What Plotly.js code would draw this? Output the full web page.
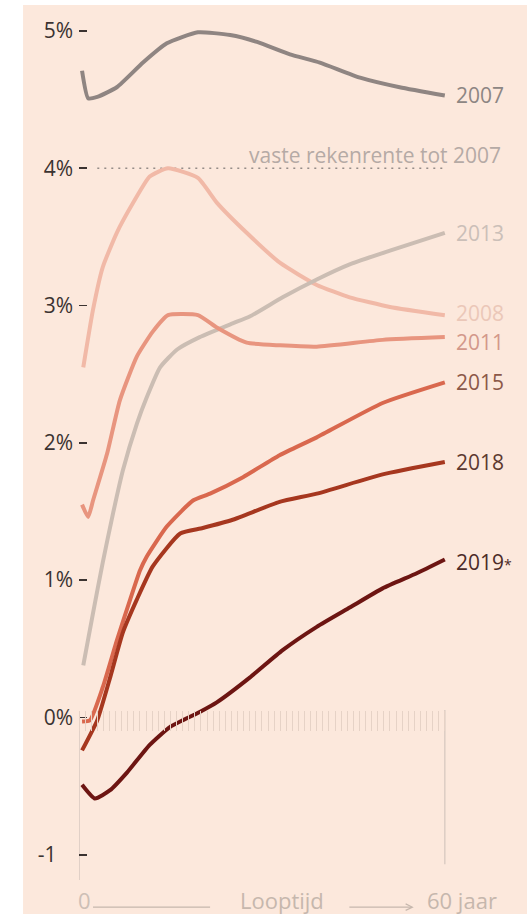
<!DOCTYPE html>
<html>
<head>
<meta charset="utf-8">
<script src="https://cdn.plot.ly/plotly-3.0.1.min.js"></script>
<style>html,body{margin:0;padding:0;background:#fff;}#chart{width:527px;height:914px;}</style>
</head>
<body>
<div id="chart"></div>
<script>
// Maturity (years) and rate (%) per curve year
const t2007 = [0.5, 1.5, 3.0, 6.2, 10.5, 14.4, 19.5, 24.8, 29.2, 34.6, 39.5, 46.1, 52.6, 60];
const v2007 = [4.71, 4.51, 4.52, 4.59, 4.77, 4.91, 4.99, 4.97, 4.92, 4.83, 4.77, 4.66, 4.59, 4.53];

const t2008 = [0.7, 2.3, 3.9, 6.2, 8.9, 11.6, 14.6, 19.5, 22.6, 27.5, 33.0, 39.0, 44.4, 51.0, 60];
const v2008 = [2.55, 2.97, 3.28, 3.53, 3.75, 3.94, 4.00, 3.93, 3.75, 3.53, 3.31, 3.15, 3.06, 2.99, 2.93];

const t2013 = [0.7, 2.3, 3.9, 5.6, 7.2, 9.5, 11.1, 13.3, 16.1, 19.8, 25.2, 28.0, 33.4, 39.0, 44.4, 51.0, 60];
const v2013 = [0.38, 0.76, 1.13, 1.49, 1.80, 2.14, 2.33, 2.55, 2.68, 2.77, 2.87, 2.92, 3.06, 3.19, 3.30, 3.40, 3.53];

const t2011 = [0.5, 1.5, 2.3, 4.6, 6.7, 9.5, 12.1, 14.6, 19.5, 22.6, 27.5, 33.0, 39.0, 49.8, 60];
const v2011 = [1.55, 1.46, 1.58, 1.92, 2.31, 2.63, 2.81, 2.93, 2.93, 2.84, 2.73, 2.71, 2.70, 2.75, 2.77];

const t2015 = [0.5, 1.8, 3.9, 6.2, 8.4, 10.0, 11.1, 14.4, 18.7, 21.5, 26.9, 32.9, 39.0, 49.8, 60];
const v2015 = [-0.03, -0.02, 0.22, 0.56, 0.86, 1.07, 1.17, 1.39, 1.58, 1.63, 1.75, 1.91, 2.04, 2.29, 2.44];

const t2018 = [0.5, 3.0, 5.1, 7.2, 9.5, 12.1, 16.6, 20.3, 25.2, 32.9, 39.0, 49.8, 60];
const v2018 = [-0.24, -0.02, 0.29, 0.62, 0.86, 1.10, 1.34, 1.38, 1.44, 1.57, 1.63, 1.77, 1.86];

const t2019 = [0.5, 2.6, 5.1, 7.9, 11.6, 14.9, 19.8, 22.6, 28.0, 33.4, 39.0, 44.4, 49.8, 55.4, 60];
const v2019 = [-0.49, -0.59, -0.53, -0.40, -0.20, -0.07, 0.04, 0.11, 0.29, 0.49, 0.66, 0.80, 0.94, 1.05, 1.15];

const seriesNames = ["2007", "2008", "2013", "2011", "2015", "2018", "2019<span style='font-size:14px'>*</span>"];
const lineColors  = ["#8f8582", "#f1b9a7", "#cbbdb3", "#e8957f", "#d9684e", "#a6371f", "#6d1512"];
const labelColors = ["#8d8683", "#ebc7b8", "#cbbfb8", "#d3988a", "#8c5848", "#5c392f", "#4c2b27"];
const labelShift  = [0, 2, 0, -5, 0, 0, -2];

const yTickVals = [-1, 0, 1, 2, 3, 4, 5];
const yTickText = ["-1\u00a0\u00a0\u00a0", "0%", "1%", "2%", "3%", "4%", "5%"];

const fixedRate = 4;
const fixedRateLabel = "vaste rekenrente tot 2007";
const xAxisText = ["0", "Looptijd", "60 jaar"];
const maxYears = 60;

const ts = [t2007, t2008, t2013, t2011, t2015, t2018, t2019];
const vs = [v2007, v2008, v2013, v2011, v2015, v2018, v2019];

const FONT = "Open Sans, Lato, sans-serif";
const XMAX = 62;

const traces = seriesNames.map((n, i) => ({
  x: ts[i], y: vs[i], type: "scatter", mode: "lines", name: n,
  line: {color: lineColors[i], width: 4, shape: "spline", smoothing: 0.5},
  hoverinfo: "skip", showlegend: false
}));

const annotations = seriesNames.map((n, i) => ({
  x: ts[i][ts[i].length - 1], y: vs[i][vs[i].length - 1], xref: "x", yref: "y",
  text: n, showarrow: false, xanchor: "left", yanchor: "middle", xshift: 9, yshift: labelShift[i],
  font: {family: FONT, size: 21, color: labelColors[i]}
}));

annotations.push({
  x: 1, xref: "paper", xshift: 46, y: fixedRate, yref: "y", yshift: 13,
  text: fixedRateLabel, showarrow: false, xanchor: "right", yanchor: "middle",
  font: {family: FONT, size: 21, color: "#b5aaa5"}
});
annotations.push({x: 0, xref: "x", xshift: 5, y: -0.0225, yref: "paper", text: xAxisText[0], showarrow: false,
  xanchor: "center", yanchor: "middle", font: {family: FONT, size: 22, color: "#cdbfb6"}});
annotations.push({x: 33.3, xref: "x", y: -0.0225, yref: "paper", text: xAxisText[1], showarrow: false,
  xanchor: "center", yanchor: "middle", font: {family: FONT, size: 22, color: "#c6b7ad"}});
annotations.push({x: 56.8, xref: "x", y: -0.0225, yref: "paper", text: xAxisText[2], showarrow: false,
  xanchor: "left", yanchor: "middle", font: {family: FONT, size: 22, color: "#c6b7ad"}});
annotations.push({x: 54.9, xref: "x", y: -0.031, yref: "paper", ax: 44.1, axref: "x", ay: -0.031, ayref: "paper",
  text: "", showarrow: true, arrowhead: 5, arrowsize: 1, arrowwidth: 1.3, arrowcolor: "#c6b7ad"});

const shapes = [
  {type: "rect", xref: "paper", yref: "paper", x0: -0.148, x1: 1.2, y0: -0.06, y1: 1,
   fillcolor: "#fce8dc", line: {width: 0}, layer: "below"},
  {type: "line", xref: "x", yref: "y", x0: 3, x1: 59.7, y0: fixedRate, y1: fixedRate,
   line: {color: "#958c88", width: 1.5, dash: "2px,5px"}, layer: "below"},
  {type: "line", xref: "x", yref: "y", x0: 0, x1: 0, y0: 0.03, y1: -1.184,
   line: {color: "#d8c9c0", width: 1.5}, layer: "below"},
  {type: "line", xref: "x", yref: "y", x0: maxYears, x1: maxYears, y0: 0.055, y1: -1.07,
   line: {color: "#dccdc4", width: 1.5}, layer: "below"},
  {type: "line", xref: "x", yref: "paper", x0: 2.3, x1: 21.5, y0: -0.031, y1: -0.031,
   line: {color: "#c6b7ad", width: 1.3}}
];

const layout = {
  width: 527, height: 914,
  margin: {l: 79, r: 70, t: 5, b: 34},
  paper_bgcolor: "#ffffff", plot_bgcolor: "rgba(0,0,0,0)",
  font: {family: FONT},
  xaxis: {range: [0, XMAX], showticklabels: false, showline: false, showgrid: false, zeroline: false, ticks: ""},
  xaxis2: {range: [0, maxYears], domain: [0, maxYears / XMAX], anchor: "free", position: 0.1943, side: "bottom",
    ticks: "outside", ticklen: 20, tickwidth: 1, tickcolor: "#e6d2c6", dtick: 1, tick0: 0,
    showticklabels: false, showline: false, showgrid: false, zeroline: false, layer: "below traces", fixedrange: true},
  yaxis: {range: [-1.184, 5.189], tickvals: yTickVals, ticktext: yTickText,
    ticks: "inside", ticklen: 8, tickwidth: 1.6, tickcolor: "#3b3331",
    tickfont: {family: FONT, size: 21, color: "#3b3331"}, ticklabelstandoff: 5,
    showline: false, showgrid: false, zeroline: false},
  annotations: annotations,
  shapes: shapes,
  showlegend: false
};

// empty trace that carries the tick comb axis (xaxis2)
traces.unshift({x: [0], y: [null], xaxis: "x2", yaxis: "y", type: "scatter", mode: "lines",
  hoverinfo: "skip", showlegend: false});

Plotly.newPlot("chart", traces, layout, {displayModeBar: false, staticPlot: true});
</script>
</body>
</html>
